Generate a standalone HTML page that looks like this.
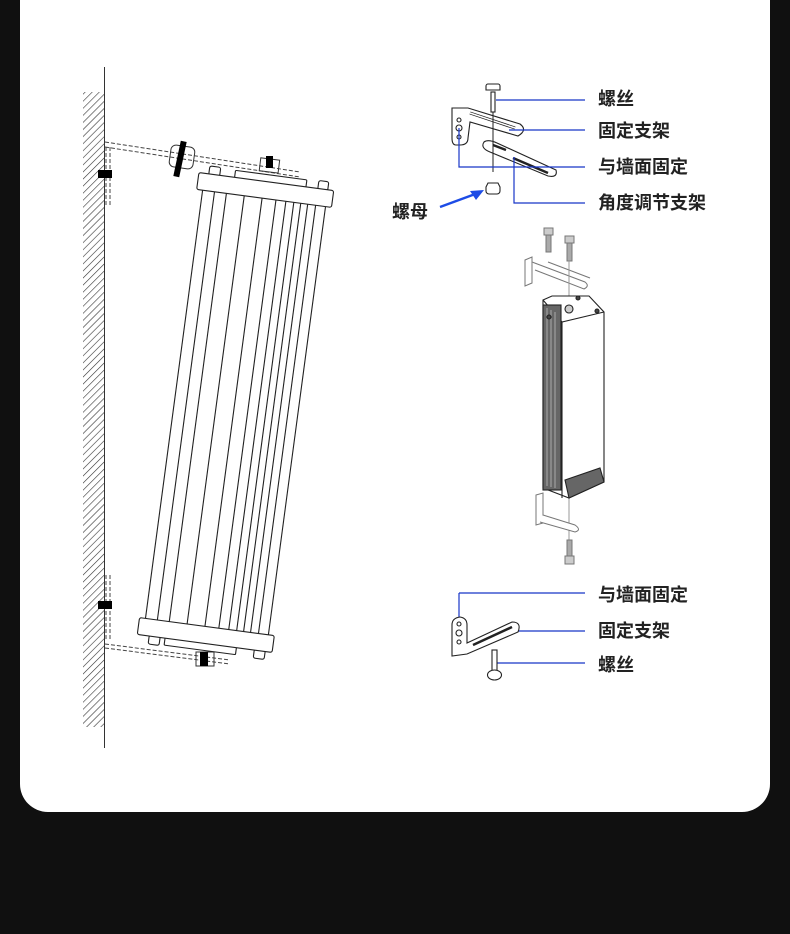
<!DOCTYPE html>
<html><head><meta charset="utf-8"><style>
html,body{margin:0;padding:0;background:#101010;}
body{width:790px;height:934px;position:relative;overflow:hidden;}
.card{position:absolute;left:20px;top:-30px;width:750px;height:842px;background:#fff;border-radius:28px;}
svg{position:absolute;left:0;top:0;}
text{font-family:"Liberation Sans","Noto Sans CJK SC",sans-serif;font-size:18px;font-weight:bold;fill:#222;}
</style></head><body>
<div class="card"></div>
<svg width="790" height="934" viewBox="0 0 790 934">
<defs>
<pattern id="h" width="5" height="5" patternUnits="userSpaceOnUse" patternTransform="rotate(45)">
<line x1="0" y1="0" x2="0" y2="5" stroke="#333" stroke-width="1.2"/>
</pattern>
</defs>
<!-- wall -->
<rect x="83" y="92" width="21" height="635" fill="url(#h)"/>
<line x1="104.5" y1="67" x2="104.5" y2="748" stroke="#333" stroke-width="1"/>
<!-- dashed brackets -->
<g stroke="#444" stroke-width="1" stroke-dasharray="4,2" fill="none">
<path d="M105 142 L300 172 M105 147 L300 177"/>
<path d="M106 147 V205 M110 147 V205"/>
<path d="M106 575 V640 M110 575 V640"/>
<path d="M105 644 L230 660 M105 648 L230 664"/>
</g>
<rect x="98" y="170" width="14" height="8" fill="#000"/>
<rect x="98" y="601" width="14" height="8" fill="#000"/>
<rect x="170" y="146" width="24" height="22" rx="5" fill="none" stroke="#333" transform="rotate(8 182 157)"/>
<rect x="177" y="141" width="6" height="36" fill="#000" transform="rotate(12 180 159)"/>
<rect x="260" y="159" width="19" height="13" fill="none" stroke="#333" transform="rotate(7 270 165)"/>
<rect x="266" y="156" width="7" height="12" fill="#000"/>
<rect x="196" y="652" width="18" height="14" fill="none" stroke="#333"/>
<rect x="200" y="652" width="8" height="14" fill="#000"/>
<!-- speaker -->
<g transform="translate(235.5 412.5) rotate(7.6)" stroke="#222" stroke-width="1.1" fill="#fff">
<g fill="none">
<line x1="-62" y1="-216" x2="-62" y2="216"/>
<line x1="-50" y1="-216" x2="-50" y2="216"/>
<line x1="-38" y1="-216" x2="-38" y2="216"/>
<line x1="-20" y1="-216" x2="-20" y2="216"/>
<line x1="-2" y1="-216" x2="-2" y2="216"/>
<line x1="12" y1="-216" x2="12" y2="216"/>
<line x1="22" y1="-216" x2="22" y2="216"/>
<line x1="30" y1="-216" x2="30" y2="216"/>
<line x1="37" y1="-216" x2="37" y2="216"/>
<line x1="44" y1="-216" x2="44" y2="216"/>
<line x1="52" y1="-216" x2="52" y2="216"/>
<line x1="62" y1="-216" x2="62" y2="216"/>
</g>
<rect x="-58" y="-241" width="11" height="9" rx="2"/>
<rect x="52" y="-241" width="10" height="9" rx="2"/>
<rect x="-32" y="-240" width="72" height="8" rx="1"/>
<rect x="-68" y="-233" width="136" height="17" rx="2"/>
<rect x="-56" y="232" width="11" height="9" rx="2"/>
<rect x="50" y="232" width="11" height="9" rx="2"/>
<rect x="-40" y="232" width="72" height="8" rx="1"/>
<rect x="-68" y="216" width="136" height="17" rx="2"/>
</g>
<!-- top right bracket detail -->
<g stroke="#222" stroke-width="1.1" fill="#fff">
<path d="M452 108 L468 108 L520 124 Q528 130 518 136 L470 122 L468 138 Q468 145 460 145 L456 145 Q452 145 452 138 Z"/>
<path d="M470 113 L515 128" stroke-width="3" stroke="#222"/>
<path d="M470 113 L515 128" stroke-width="1.5" stroke="#fff"/>
<circle cx="459" cy="120" r="2"/><circle cx="459" cy="128" r="3"/><circle cx="459" cy="137" r="2"/>
<path d="M484 142 Q480 148 490 152 L548 176 Q558 178 556 170 L497 143 Q488 139 484 142 Z"/>
<path d="M493 145 L506 150 M513 158 L548 173" stroke-width="2.5"/>
<rect x="491" y="92" width="4" height="20"/>
<path d="M488 84 h10 a2 2 0 0 1 2 2 v4 h-14 v-4 a2 2 0 0 1 2 -2z"/>
<path d="M488 183 h10 l2 4 v4 a3 3 0 0 1 -3 3 h-8 a3 3 0 0 1 -3 -3 v-4 z"/>
</g>
<line x1="493" y1="112" x2="493" y2="172" stroke="#222"/>
<!-- blue connectors -->
<g stroke="#1836c8" stroke-width="1.2" fill="none">
<path d="M496 100 H585"/>
<path d="M509 130 H585"/>
<path d="M459 128 V167 H585"/>
<path d="M514 157 V203 H585"/>
<path d="M459 593 H585"/>
<path d="M459 593 V632"/>
<path d="M506 631 H585"/>
<path d="M497 663 H585"/>
</g>
<line x1="440" y1="207" x2="478" y2="193" stroke="#1d4ce6" stroke-width="2.5"/>
<polygon points="484,190 470,191 476,200" fill="#1d4ce6"/>
<!-- labels -->
<text x="598" y="105">螺丝</text>
<text x="598" y="137">固定支架</text>
<text x="598" y="173">与墙面固定</text>
<text x="598" y="209">角度调节支架</text>
<text x="392" y="218">螺母</text>
<text x="598" y="601">与墙面固定</text>
<text x="598" y="637">固定支架</text>
<text x="598" y="671">螺丝</text>
<!-- exploded middle speaker -->
<g stroke="#777" stroke-width="1" fill="#fff">
<path d="M525 260 L532 257 L532 283 L525 286 Z"/>
<path d="M532 262 L585 282 Q590 286 584 289 L535 270"/>
<path d="M548 262 L590 278"/>
<rect x="546" y="234" width="5" height="18" fill="#aaa"/>
<rect x="544" y="228" width="9" height="7" fill="#ccc"/>
<rect x="567" y="243" width="5" height="18" fill="#aaa"/>
<rect x="565" y="236" width="9" height="7" fill="#ccc"/>
</g>
<line x1="569" y1="260" x2="569" y2="555" stroke="#999"/>
<g stroke="#222" stroke-width="1.1">
<path d="M543 300 L552 296 L589 296 L604 312 L604 482 L569 498 L543 488 Z" fill="#fff"/>
<path d="M543 300 L562 322 L604 312" fill="none"/>
<path d="M562 322 L562 498" fill="none"/>
<rect x="543" y="305" width="18" height="185" fill="#666"/>
<path d="M547 308 V486 M551 310 V487 M555 312 V488" stroke="#bbb" stroke-width="0.8"/>
<path d="M565 480 L600 468 L604 482 L569 498 Z" fill="#666"/>
<circle cx="569" cy="309" r="4" fill="#ccc"/>
<circle cx="549" cy="317" r="2" fill="#444"/><circle cx="578" cy="298" r="2" fill="#444"/><circle cx="597" cy="311" r="2" fill="#444"/>
</g>
<g stroke="#777" stroke-width="1" fill="#fff">
<path d="M536 495 L543 493 L543 523 L536 525 Z"/>
<path d="M543 515 L575 525 Q582 530 575 532 L540 522"/>
<rect x="567" y="540" width="5" height="18" fill="#aaa"/>
<rect x="565" y="556" width="9" height="8" fill="#ccc"/>
</g>
<!-- bottom bracket -->
<g stroke="#222" stroke-width="1.1" fill="#fff">
<path d="M452 625 Q452 618 460 617 Q467 618 467 625 L467 643 L512 622 Q522 622 518 632 L467 654 L452 656 Z"/>
<path d="M473 645 L512 627" stroke-width="2.5"/>
<circle cx="459" cy="624" r="2"/><circle cx="459" cy="633" r="3"/><circle cx="459" cy="642" r="2"/>
<rect x="492" y="650" width="5" height="22"/>
<ellipse cx="494.5" cy="675" rx="7" ry="5"/>
</g>
</svg>
</body></html>
